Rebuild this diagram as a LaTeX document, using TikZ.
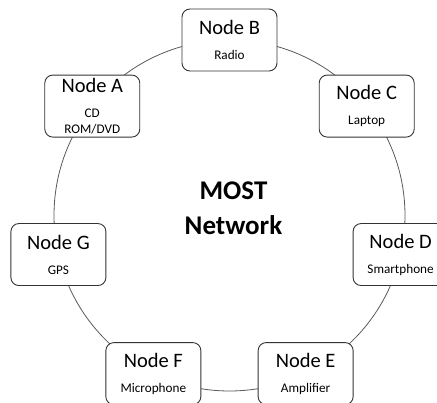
\documentclass[tikz,border=0pt]{standalone}
\usepackage{fontspec}
\setmainfont{Carlito}
\begin{document}
\begin{tikzpicture}[x=1pt,y=1pt,
  ring/.style={draw=black!65, line width=0.8pt},
  unit/.style={draw=black!80, line width=0.9pt, fill=white, rounded corners=8pt,
    minimum width=95pt, minimum height=62pt, align=center, inner sep=0pt,
    font=\fontsize{13.2}{16}\selectfont},
  heading/.style={font=\fontsize{27}{35}\selectfont\bfseries, align=center},
]
\newcommand{\ttl}[1]{{\fontsize{20.5}{24}\selectfont #1}\\[9pt]}
\useasboundingbox (-229.5,-187.5) rectangle (207.5,215.5);
\coordinate (hub) at (0,0);
\draw[ring] (hub) circle[radius=175.5];
\node[unit] (B) at ({90}:175.5) {\ttl{Node B}Radio};
\node[unit] (A) at ({90+360/7}:175.5) {\ttl{Node A}CD\\ROM/DVD};
\node[unit] (G) at ({90+2*360/7}:175.5) {\ttl{Node G}GPS};
\node[unit] (F) at ({90+3*360/7}:175.5) {\ttl{Node F}Microphone};
\node[unit] (E) at ({90+4*360/7}:175.5) {\ttl{Node E}Amplifier};
\node[unit] (D) at ({90+5*360/7}:175.5) {\ttl{Node D}Smartphone};
\node[unit] (C) at ({90+6*360/7}:175.5) {\ttl{Node C}Laptop};
\node[heading] (title) at (4,7.5) {MOST\\Network};
\end{tikzpicture}
\end{document}
